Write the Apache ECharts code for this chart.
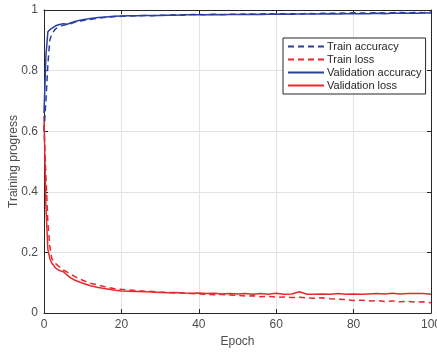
<!DOCTYPE html>
<html>
<head>
<meta charset="utf-8">
<script src="https://cdn.jsdelivr.net/npm/echarts@6/dist/echarts.min.js"></script>
<style>
  html, body { margin: 0; padding: 0; background: #fff; }
  #chart { width: 437px; height: 353px; }
</style>
</head>
<body>
<div id="chart"></div>
<script>
const epochs = [0, 0.5, 1, 1.5, 2, 3, 4, 5, 6, 7, 8, 9, 10,
  12, 14, 16, 18, 20, 22, 24, 26, 28, 30, 32, 34, 36, 38, 40,
  42, 44, 46, 48, 50, 52, 54, 56, 58, 60, 62, 64, 66, 68, 70,
  72, 74, 76, 78, 80, 82, 84, 86, 88, 90, 92, 94, 96, 98, 100];

const trainAcc = [0.60, 0.70, 0.82, 0.90, 0.92, 0.938, 0.945, 0.950, 0.953, 0.955, 0.960, 0.962, 0.965,
  0.969, 0.973, 0.976, 0.978, 0.979, 0.980, 0.981, 0.982, 0.981, 0.983, 0.983, 0.984, 0.983, 0.985, 0.985,
  0.984, 0.986, 0.985, 0.986, 0.986, 0.987, 0.986, 0.987, 0.988, 0.987, 0.988, 0.988, 0.987, 0.989, 0.988,
  0.989, 0.989, 0.990, 0.989, 0.991, 0.990, 0.990, 0.991, 0.990, 0.991, 0.992, 0.991, 0.992, 0.991, 0.993];

const trainLoss = [0.62, 0.45, 0.30, 0.22, 0.18, 0.163, 0.152, 0.142, 0.135, 0.127, 0.120, 0.114, 0.108,
  0.098, 0.092, 0.086, 0.081, 0.078, 0.076, 0.074, 0.072, 0.071, 0.069, 0.068, 0.066, 0.066, 0.064, 0.063,
  0.062, 0.060, 0.061, 0.059, 0.058, 0.056, 0.057, 0.054, 0.055, 0.052, 0.053, 0.051, 0.052, 0.050, 0.049,
  0.050, 0.047, 0.046, 0.044, 0.041, 0.042, 0.040, 0.041, 0.038, 0.040, 0.037, 0.038, 0.036, 0.037, 0.034];

const valAcc = [0.66, 0.85, 0.928, 0.935, 0.940, 0.948, 0.952, 0.955, 0.953, 0.958, 0.962, 0.965, 0.968,
  0.972, 0.975, 0.977, 0.979, 0.980, 0.981, 0.981, 0.982, 0.982, 0.982, 0.983, 0.983, 0.984, 0.984, 0.984,
  0.984, 0.985, 0.984, 0.985, 0.985, 0.985, 0.986, 0.985, 0.986, 0.986, 0.987, 0.986, 0.987, 0.987, 0.987,
  0.987, 0.988, 0.987, 0.988, 0.988, 0.988, 0.988, 0.989, 0.988, 0.989, 0.989, 0.989, 0.989, 0.990, 0.990];

const valLoss = [0.65, 0.35, 0.21, 0.18, 0.165, 0.148, 0.140, 0.136, 0.125, 0.115, 0.108, 0.103, 0.098,
  0.090, 0.084, 0.080, 0.076, 0.073, 0.072, 0.071, 0.070, 0.069, 0.068, 0.067, 0.068, 0.066, 0.065, 0.066,
  0.064, 0.065, 0.063, 0.064, 0.063, 0.064, 0.062, 0.064, 0.062, 0.065, 0.062, 0.063, 0.070, 0.062, 0.062,
  0.063, 0.062, 0.064, 0.062, 0.063, 0.062, 0.063, 0.064, 0.063, 0.065, 0.063, 0.064, 0.064, 0.064, 0.062];

const xTicks = [0, 20, 40, 60, 80, 100];
const yTicks = [0, 0.2, 0.4, 0.6, 0.8, 1];

const BLUE = "#2b3f9e";
const RED = "#e8282c";
const AXIS = "#262626";
const LABEL = "#4d4d4d";
const FONT = "Liberation Sans, Arial, sans-serif";

const pairs = (ys) => epochs.map((x, i) => [x, ys[i]]);

function lineSeries(name, ys, color, dashed) {
  return {
    name,
    type: "line",
    data: pairs(ys),
    showSymbol: false,
    symbol: "none",
    smooth: false,
    lineStyle: { color, width: 1.5, type: dashed ? [6, 4] : "solid" },
    itemStyle: { color },
    z: dashed ? 3 : 2,
  };
}

const chart = echarts.init(document.getElementById("chart"), null, { renderer: "canvas" });

const baseAxis = {
  axisLine: { show: true, onZero: false, lineStyle: { color: AXIS, width: 1 } },
  axisTick: { show: true, inside: true, length: 4, lineStyle: { color: AXIS } },
};

chart.setOption({
  animation: false,
  backgroundColor: "#fff",
  textStyle: { fontFamily: FONT },
  grid: { left: 44, right: 6, top: 10, bottom: 40, containLabel: false, outerBoundsMode: "none" },
  legend: {
    orient: "vertical",
    left: 283,
    top: 38,
    itemWidth: 36,
    itemHeight: 12,
    itemGap: 2,
    padding: [3, 4, 3, 4],
    backgroundColor: "#fff",
    borderColor: AXIS,
    borderWidth: 1,
    borderRadius: 0,
    itemStyle: { opacity: 0 },
    textStyle: { color: "#262626", fontSize: 11, fontFamily: FONT, padding: [0, 0, 0, -2] },
    data: ["Train accuracy", "Train loss", "Validation accuracy", "Validation loss"],
  },
  xAxis: [
    {
      ...baseAxis,
      type: "value",
      min: 0, max: 100, interval: 20,
      name: "Epoch",
      nameLocation: "middle",
      nameGap: 23,
      nameMoveOverlap: false,
      nameTextStyle: { color: LABEL, fontSize: 12, fontFamily: FONT },
      axisLabel: { color: LABEL, fontSize: 12, margin: 6, fontFamily: FONT,
        formatter: (v) => xTicks.includes(v) ? String(v) : "" },
      splitLine: { show: true, lineStyle: { color: "#e3e3e3", width: 1 } },
    },
    {
      ...baseAxis,
      type: "value",
      position: "top",
      min: 0, max: 100, interval: 20,
      axisLabel: { show: false },
      splitLine: { show: false },
    },
  ],
  yAxis: [
    {
      ...baseAxis,
      type: "value",
      min: 0, max: 1, interval: 0.2,
      name: "Training progress",
      nameLocation: "middle",
      nameGap: 24,
      nameMoveOverlap: false,
      nameTextStyle: { color: LABEL, fontSize: 12, fontFamily: FONT },
      axisLabel: { color: LABEL, fontSize: 12, margin: 6, fontFamily: FONT,
        formatter: (v) => {
          const t = yTicks.find((k) => Math.abs(k - v) < 1e-9);
          return t === undefined ? "" : String(t);
        } },
      splitLine: { show: true, lineStyle: { color: "#e3e3e3", width: 1 } },
    },
    {
      ...baseAxis,
      type: "value",
      position: "right",
      min: 0, max: 1, interval: 0.2,
      axisLabel: { show: false },
      splitLine: { show: false },
    },
  ],
  series: [
    lineSeries("Train accuracy", trainAcc, BLUE, true),
    lineSeries("Train loss", trainLoss, RED, true),
    lineSeries("Validation accuracy", valAcc, BLUE, false),
    lineSeries("Validation loss", valLoss, RED, false),
  ],
});
</script>
</body>
</html>
